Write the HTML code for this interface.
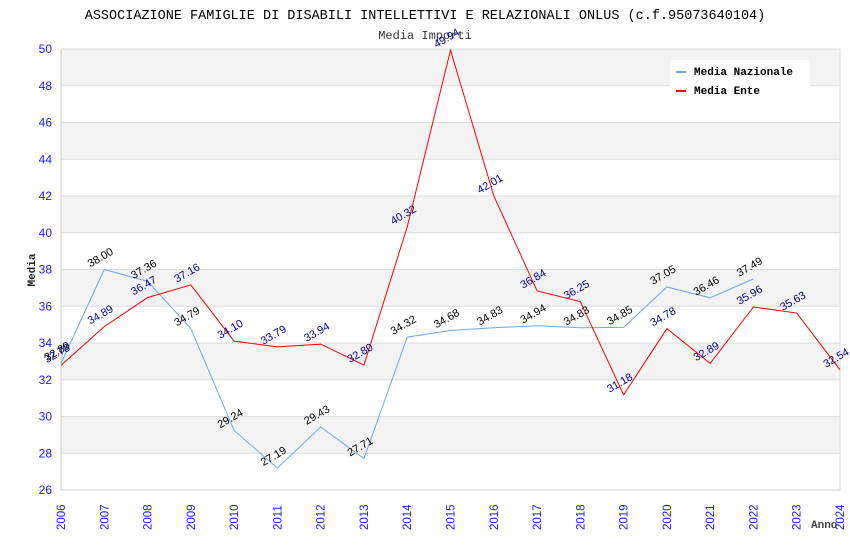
<!DOCTYPE html>
<html><head><meta charset="utf-8"><style>
body{margin:0;background:#fff;}
svg{display:block;font-family:"Liberation Sans",sans-serif;}
.mono{font-family:"Liberation Mono","DejaVu Sans Mono",monospace;}
</style></head><body>
<svg width="850" height="550" id="c">
<text class="mono" x="425" y="19" text-anchor="middle" font-size="13.5" fill="#000">ASSOCIAZIONE FAMIGLIE DI DISABILI INTELLETTIVI E RELAZIONALI ONLUS (c.f.95073640104)</text>
<text class="mono" x="425" y="39" text-anchor="middle" font-size="12" fill="#333">Media Importi</text>
<g id="bands"></g><g id="grid"></g><g id="axes"></g><g id="lines"></g><g id="labels"></g>
<text class="mono" x="35" y="270" transform="rotate(-90 35 270)" text-anchor="middle" font-size="11" font-weight="bold" fill="#222">Media</text>
<text class="mono" x="811" y="528" font-size="11" font-weight="bold" fill="#444">Anno</text>
<g>
<rect x="670" y="60" width="140" height="38" fill="#fff"/>
<rect x="676" y="71" width="10" height="2" fill="#6aaaf0"/>
<text class="mono" x="694" y="75" font-size="11" font-weight="bold">Media Nazionale</text>
<rect x="676" y="90" width="10" height="2" fill="#f00"/>
<text class="mono" x="694" y="94" font-size="11" font-weight="bold">Media Ente</text>
</g>
</svg>
<script>
const years=[2006,2007,2008,2009,2010,2011,2012,2013,2014,2015,2016,2017,2018,2019,2020,2021,2022,2023,2024];
const nazionale=[32.89,38.00,37.36,34.79,29.24,27.19,29.43,27.71,34.32,34.68,34.83,34.94,34.83,34.85,37.05,36.46,37.49];
const ente=[32.78,34.89,36.47,37.16,34.10,33.79,33.94,32.80,40.32,49.94,42.01,36.84,36.25,31.18,34.78,32.89,35.96,35.63,32.54];
const yTicks=[26,28,30,32,34,36,38,40,42,44,46,48,50];
const X0=61,X1=840,Y0=490,Y1=49;
const xs=i=>X0+(X1-X0)*i/(years.length-1);
const ys=v=>Y0-(v-26)/(50-26)*(Y0-Y1);
const NS="http://www.w3.org/2000/svg";
function mk(t,a,p){const e=document.createElementNS(NS,t);for(const k in a)e.setAttribute(k,a[k]);document.getElementById(p).appendChild(e);return e;}
for(let i=0;i<yTicks.length-1;i++){
  if(i%2===1){const r=mk('rect',{x:X0,y:ys(yTicks[i+1]),width:X1-X0,height:ys(yTicks[i])-ys(yTicks[i+1]),fill:'#f3f3f3'},'bands');
  
  }
}
yTicks.forEach(v=>{
  const l=mk('line',{x1:X0,x2:X1,y1:ys(v),y2:ys(v),stroke:'#ddd'},'grid');
  
  
  const t=mk('text',{x:X0-9,y:ys(v)+4,'text-anchor':'end','font-size':12,fill:'#1a1aff'},'axes');
  t.textContent=v;
  
  
});
mk('line',{x1:X0,x2:X0,y1:Y1,y2:Y0,stroke:'#ccc'},'axes');
mk('line',{x1:X1,x2:X1,y1:Y1,y2:Y0,stroke:'#ddd'},'axes');
mk('line',{x1:X0,x2:X1,y1:Y0,y2:Y0,stroke:'#ccc'},'axes');
years.forEach((y,i)=>{
  const x=xs(i)+4,yy=530;
  const t=mk('text',{x:x,y:yy,transform:`rotate(-90 ${x} ${yy})`,'font-size':11.5,fill:'#1a1aff'},'axes');
  t.textContent=y;
  
  
});
function series(vals,color,lc,name){
  const p=mk('polyline',{points:vals.map((v,i)=>xs(i)+','+ys(v)).join(' '),fill:'none',stroke:color,'stroke-width':1},'lines');
  
  
  vals.forEach((v,i)=>{
    const x=xs(i)-14,y=ys(v)-2;
    const t=mk('text',{x:x,y:y,transform:`rotate(-30 ${x} ${y})`,'font-size':11,fill:lc},'labels');
    t.textContent=v.toFixed(2);
    
    
  });
}
series(nazionale,'#6aaaf0','#000','nazionale');
series(ente,'#f00','#00008b','ente');
</script>
</body></html>
